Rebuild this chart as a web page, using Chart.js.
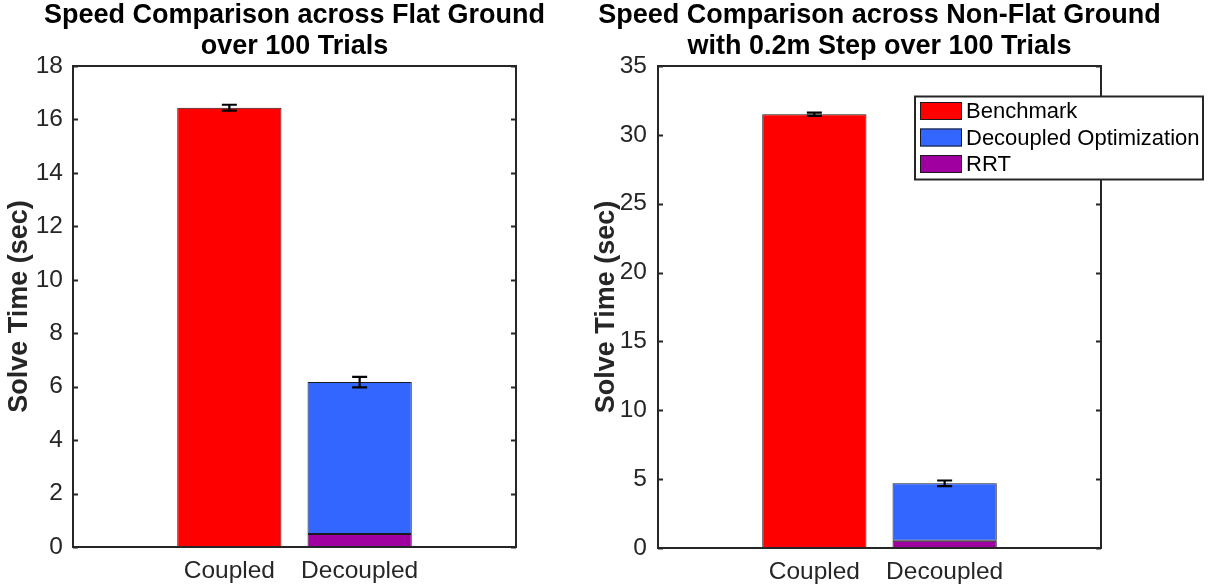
<!DOCTYPE html>
<html>
<head>
<meta charset="utf-8">
<script src="https://cdn.jsdelivr.net/npm/chart.js@4.4.1/dist/chart.umd.min.js"></script>
<style>
  html, body { margin: 0; padding: 0; background: #fff; }
  #wrap { position: relative; width: 1209px; height: 586px; overflow: hidden; }
  canvas { position: absolute; top: 0; }
  #cFlat { left: 0; }
  #cStep { left: 554px; }
</style>
</head>
<body>
<div id="wrap">
  <canvas id="cFlat" width="589" height="586"></canvas>
  <canvas id="cStep" width="651" height="586"></canvas>
</div>
<script>
// ── Datos ──
const categories = ['Coupled', 'Decoupled'];
const seriesNames = ['Benchmark', 'Decoupled Optimization', 'RRT'];

// Terreno plano (0..18 s)
const flatBenchmark   = [16.44, null];
const flatDecoupled   = [null, 5.68];
const flatRRT         = [null, 0.49];
const flatErr         = [0.11, 0.2];
const flatYTicks      = [0, 2, 4, 6, 8, 10, 12, 14, 16, 18];

// Terreno con escalón 0.2 m (0..35 s)
const stepBenchmark   = [31.5, null];
const stepDecoupled   = [null, 4.17];
const stepRRT         = [null, 0.53];
const stepErr         = [0.12, 0.2];
const stepYTicks      = [0, 5, 10, 15, 20, 25, 30, 35];

const COLORES = { 'Benchmark': '#ff0000', 'Decoupled Optimization': '#3366ff', 'RRT': '#a000a0' };
const EJE = '#262626';
const FUENTE = "'Liberation Sans', Arial, Helvetica, sans-serif";

Chart.defaults.font.family = FUENTE;

function _puntos(arr) {
    return categories.map((c, i) => ({ x: i + 1, y: arr[i] })).filter(p => p.y !== null);
}

// ── Caja + marcas hacia dentro (estilo MATLAB) ──
const cajaPlugin = {
    id: 'caja',
    afterDatasetsDraw(chart, args, opts) {
        const { ctx, chartArea: a, scales } = chart;
        ctx.save();
        ctx.strokeStyle = EJE;
        ctx.lineWidth = 2;
        (opts.yTicks || []).forEach(v => {
            const y = Math.round(scales.y.getPixelForValue(v)) + 0.5;
            ctx.beginPath();
            ctx.moveTo(a.left, y); ctx.lineTo(a.left + 5, y);
            ctx.moveTo(a.right, y); ctx.lineTo(a.right - 5, y);
            ctx.stroke();
        });
        ctx.strokeRect(a.left, a.top, a.right - a.left, a.bottom - a.top);
        ctx.restore();
    }
};

// ── Barras de error sobre el total apilado ──
const errorPlugin = {
    id: 'errores',
    afterDatasetsDraw(chart, args, opts) {
        const { ctx, scales } = chart;
        const err = opts.err || [];
        ctx.save();
        ctx.strokeStyle = '#000';
        ctx.lineWidth = 2.2;
        categories.forEach((c, i) => {
            let total = 0;
            chart.data.datasets.forEach(ds => {
                const p = ds.data.find(d => d.x === i + 1);
                if (p) total += p.y;
            });
            const x  = scales.x.getPixelForValue(i + 1);
            const y1 = scales.y.getPixelForValue(total + err[i]);
            const y2 = scales.y.getPixelForValue(total - err[i]);
            ctx.beginPath();
            ctx.moveTo(x, y1); ctx.lineTo(x, y2);
            ctx.moveTo(x - 7.5, y1); ctx.lineTo(x + 7.5, y1);
            ctx.moveTo(x - 7.5, y2); ctx.lineTo(x + 7.5, y2);
            ctx.stroke();
        });
        ctx.restore();
    }
};

// ── Leyenda dentro del área (solo gráfica derecha) ──
const leyendaPlugin = {
    id: 'leyendaCaja',
    afterDraw(chart, args, opts) {
        if (!opts.show) return;
        const { ctx, chartArea: a } = chart;
        const bx = a.right - 186, by = a.top + 30.5, bw = 288, bh = 83;
        ctx.save();
        ctx.fillStyle = '#fff';
        ctx.fillRect(bx, by, bw, bh);
        ctx.strokeStyle = EJE;
        ctx.lineWidth = 2;
        ctx.strokeRect(bx, by, bw, bh);
        ctx.font = '22px ' + FUENTE;
        ctx.textBaseline = 'middle';
        seriesNames.forEach((nombre, i) => {
            const cy = by + 14.5 + i * 26.5;
            ctx.fillStyle = COLORES[nombre];
            ctx.fillRect(bx + 5, cy - 9, 42, 18);
            ctx.strokeStyle = '#1a1a1a';
            ctx.lineWidth = 1;
            ctx.strokeRect(bx + 5.5, cy - 8.5, 41, 17);
            ctx.fillStyle = '#000';
            ctx.fillText(nombre, bx + 51, cy + 1);
        });
        ctx.restore();
    }
};

function crearGrafica(id, cfg) {
    const datasets = [
        { label: 'RRT', data: _puntos(cfg.rrt) },
        { label: 'Decoupled Optimization', data: _puntos(cfg.dec) },
        { label: 'Benchmark', data: _puntos(cfg.bench) }
    ].map(ds => Object.assign(ds, {
        backgroundColor: COLORES[ds.label],
        borderColor: '#1a1a1a',
        borderWidth: 1,
        borderSkipped: false,
        barPercentage: 0.8,
        categoryPercentage: 1
    }));

    return new Chart(document.getElementById(id), {
        type: 'bar',
        data: { datasets },
        plugins: [cajaPlugin, errorPlugin, leyendaPlugin],
        options: {
            responsive: false,
            animation: false,
            devicePixelRatio: 1,
            layout: { padding: 0 },
            plugins: {
                legend: { display: false },
                tooltip: { enabled: false },
                title: {
                    display: true,
                    text: cfg.titulo,
                    color: '#000',
                    font: { size: 27, weight: 'bold', lineHeight: 31 / 27 },
                    padding: { top: 0, bottom: 4 }
                },
                caja: { yTicks: cfg.yTicks },
                errores: { err: cfg.err },
                leyendaCaja: { show: cfg.leyenda }
            },
            scales: {
                x: {
                    type: 'linear',
                    stacked: true,
                    offset: false,
                    min: -0.2,
                    max: 3.2,
                    afterBuildTicks: s => { s.ticks = categories.map((c, i) => ({ value: i + 1 })); },
                    afterFit: s => { s.height = cfg.xHeight; },
                    ticks: {
                        callback: v => categories[Math.round(v) - 1] || '',
                        color: EJE,
                        font: { size: 24.5 },
                        padding: 10,
                        maxRotation: 0,
                        autoSkip: false
                    },
                    grid: { display: false, drawTicks: false },
                    border: { display: false }
                },
                y: {
                    stacked: true,
                    min: 0,
                    max: cfg.yMax,
                    afterBuildTicks: s => { s.ticks = cfg.yTicks.map(v => ({ value: v })); },
                    afterFit: s => { s.width = cfg.yWidth; },
                    ticks: { color: EJE, font: { size: 24.5 }, padding: cfg.tickPad },
                    grid: { display: false, drawTicks: false },
                    border: { display: false },
                    title: {
                        display: true,
                        text: 'Solve Time (sec)',
                        color: EJE,
                        font: { size: 27, weight: 'bold' },
                        padding: { top: cfg.yTitlePad, bottom: 0 }
                    }
                },
                // eje vacío a la derecha: reserva el margen y deja el título centrado sobre la caja
                yDer: {
                    position: 'right',
                    min: 0,
                    max: 1,
                    afterFit: s => { s.width = cfg.yWidth; },
                    ticks: { display: false },
                    grid: { display: false, drawTicks: false },
                    border: { display: false }
                }
            }
        }
    });
}

crearGrafica('cFlat', {
    titulo: ['Speed Comparison across Flat Ground', 'over 100 Trials'],
    bench: flatBenchmark, dec: flatDecoupled, rrt: flatRRT, err: flatErr,
    yMax: 18, yTicks: flatYTicks,
    yWidth: 73, xHeight: 39, yTitlePad: 3, tickPad: 10, leyenda: false
});

crearGrafica('cStep', {
    titulo: ['Speed Comparison across Non-Flat Ground', 'with 0.2m Step over 100 Trials'],
    bench: stepBenchmark, dec: stepDecoupled, rrt: stepRRT, err: stepErr,
    yMax: 35, yTicks: stepYTicks,
    yWidth: 104, xHeight: 38, yTitlePad: 36, tickPad: 11, leyenda: true
});
</script>
</body>
</html>
